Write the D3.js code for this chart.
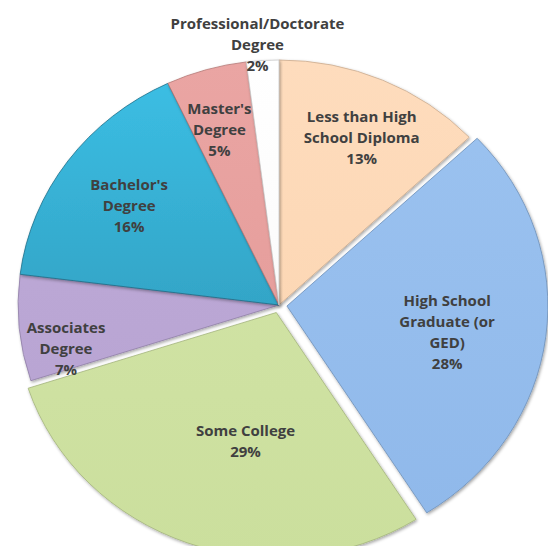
<!DOCTYPE html>
<html>
<head>
<meta charset="utf-8">
<script src="https://cdn.jsdelivr.net/npm/d3@7"></script>
<style>
  body { margin: 0; background: #fff; }
  text { font-family: "Open Sans", Lato, sans-serif; font-weight: bold; fill: #404040; }
</style>
</head>
<body>
<div id="container"></div>
<script>
/* DATA */
var categories = ["Less than High School Diploma", "High School Graduate (or GED)", "Some College",
  "Associates Degree", "Bachelor's Degree", "Master's Degree", "Professional/Doctorate Degree"];
var shares = [13, 28, 29, 7, 16, 5, 2];
// label lines as they wrap in the picture
var labelLines = [
  ["Less than High", "School Diploma"],
  ["High School", "Graduate (or", "GED)"],
  ["Some College"],
  ["Associates", "Degree"],
  ["Bachelor's", "Degree"],
  ["Master's", "Degree"],
  ["Professional/Doctorate", "Degree"]
];

/* LAYOUT */
var width = 548, height = 546;
var cx = 279, cy = 305;
var radius = 245, stretch = 1.065;   // the pie is a bit wider than tall
var explode = { 1: 8, 2: 8 };
var labelPos = [0.74, 0.64, 0.55, 0.82, 0.71, 0.75, 1.07];
var labelNudge = [[6, -1], [-6, 7], [18, 2], [0, 25], [0, 3], [-5, 1], [-4, 1]];
var colorsTop = ["#fedcbd", "#9cc3f0", "#d4e5a9", "#c0acd9", "#3cc0e6", "#eaa5a3", "#ffffff"];
var colorsBottom = ["#fbd3ad", "#8fb8ea", "#cbdf9d", "#b5a1d0", "#2a8aa8", "#e29896", "#f6f6f6"];
var strokes = ["#c9ab8f", "#6d8fb8", "#a3b47c", "#8f7fa6", "#20708a", "#b57876", "#c8c8c8"];

var svg = d3.select("#container")
  .append("svg")
  .attr("width", width)
  .attr("height", height);

var defs = svg.append("defs");
colorsTop.forEach(function(c, i) {
  var g = defs.append("linearGradient")
    .attr("id", "grad" + i)
    .attr("gradientUnits", "userSpaceOnUse")
    .attr("x1", 0).attr("y1", -radius).attr("x2", 0).attr("y2", radius);
  g.append("stop").attr("offset", "0%").attr("stop-color", c);
  g.append("stop").attr("offset", "100%").attr("stop-color", colorsBottom[i]);
});

var shadow = defs.append("filter").attr("id", "shadow")
  .attr("x", "-10%").attr("y", "-10%").attr("width", "120%").attr("height", "120%");
shadow.append("feDropShadow")
  .attr("dx", 1).attr("dy", 1.5).attr("stdDeviation", 1.5)
  .attr("flood-color", "#000").attr("flood-opacity", 0.35);

var pie = d3.pie().sort(null).value(function(d) { return d; });
var arcs = pie(shares);

var arc = d3.arc().innerRadius(0).outerRadius(radius);

var chart = svg.append("g")
  .attr("transform", "translate(" + cx + "," + cy + ")");

// slices, drawn in a stretched group
var slices = chart.append("g")
  .attr("transform", "scale(" + stretch + ",1)");

slices.selectAll("path")
  .data(arcs)
  .enter()
  .append("path")
  .attr("transform", function(d, i) {
    var e = explode[i] || 0;
    var mid = (d.startAngle + d.endAngle) / 2;
    return "translate(" + (Math.sin(mid) * e / stretch) + "," + (-Math.cos(mid) * e) + ")";
  })
  .attr("d", arc)
  .attr("fill", function(d, i) { return "url(#grad" + i + ")"; })
  .attr("stroke", function(d, i) { return strokes[i]; })
  .attr("stroke-width", 0.8)
  .attr("vector-effect", "non-scaling-stroke")
  .attr("filter", "url(#shadow)");

// labels
var lineH = 21;
var labels = chart.selectAll("g.label")
  .data(arcs)
  .enter()
  .append("g")
  .attr("class", "label")
  .attr("transform", function(d, i) {
    var mid = (d.startAngle + d.endAngle) / 2;
    var r = radius * labelPos[i] + (explode[i] || 0);
    var x = Math.sin(mid) * r * stretch + labelNudge[i][0];
    var y = -Math.cos(mid) * r + labelNudge[i][1];
    return "translate(" + x + "," + y + ")";
  });

labels.each(function(d, i) {
  var lines = labelLines[i].concat([shares[i] + "%"]);
  var g = d3.select(this);
  var top = -(lines.length - 1) * lineH / 2;
  lines.forEach(function(t, k) {
    g.append("text")
      .attr("x", 0)
      .attr("y", top + k * lineH)
      .attr("dy", "0.35em")
      .attr("text-anchor", "middle")
      .style("font-size", "15px")
      .text(t);
  });
});
</script>
</body>
</html>
